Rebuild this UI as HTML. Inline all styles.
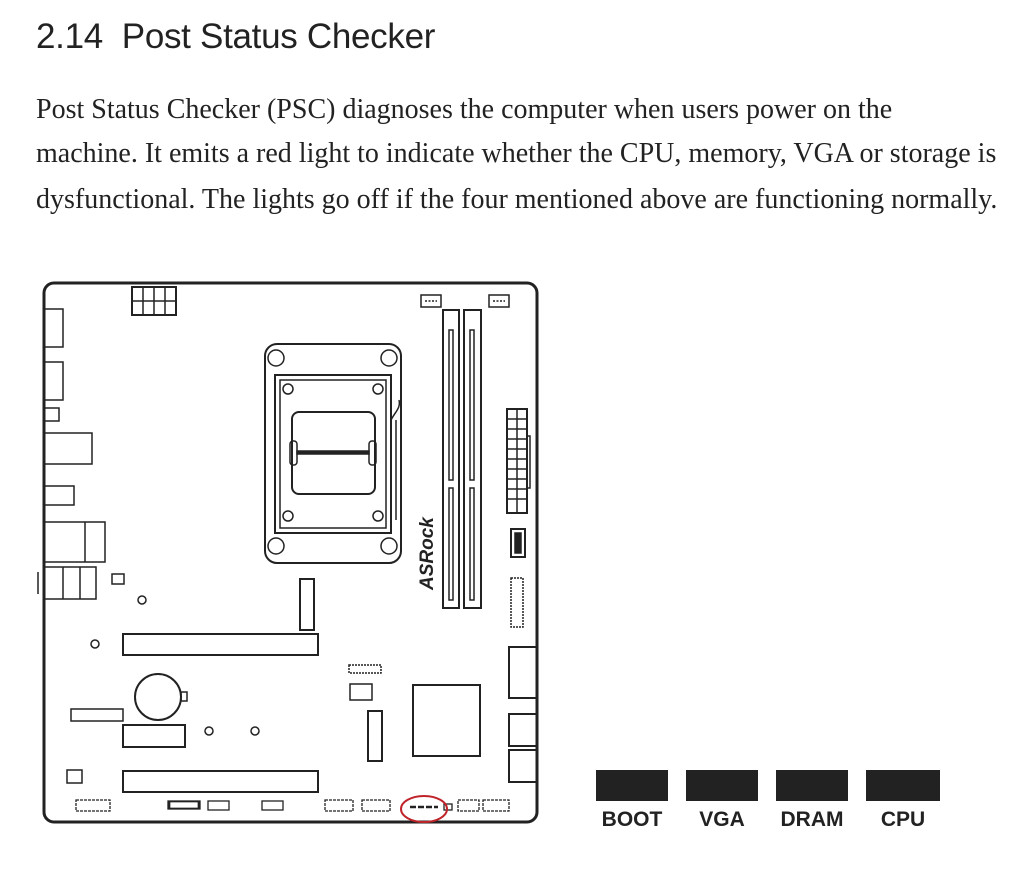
<!DOCTYPE html>
<html><head><meta charset="utf-8"><style>
body{margin:0;width:1036px;height:893px;background:#fff;overflow:hidden;position:relative}
.t{position:absolute;left:36px;top:17px;font-family:"Liberation Sans",sans-serif;font-size:35px;color:#222;letter-spacing:-0.3px}
.p{position:absolute;left:36px;font-family:"Liberation Serif",serif;font-size:28px;color:#222;white-space:nowrap}
</style></head><body>
<div class="t">2.14&nbsp; Post Status Checker</div>
<div class="p" style="top:94px">Post Status Checker (PSC) diagnoses the computer when users power on the</div>
<div class="p" style="top:138px">machine. It emits a red light to indicate whether the CPU, memory, VGA or storage is</div>
<div class="p" style="top:184px">dysfunctional. The lights go off if the four mentioned above are functioning normally.</div>
<svg width="1036" height="893" style="position:absolute;left:0;top:0" fill="none" stroke="#222" stroke-width="1.5">
<rect x="44" y="283" width="493" height="539" rx="10" stroke-width="3"/>
<rect x="132" y="287" width="44" height="28" stroke-width="2"/>
<path d="M143 287v28M154 287v28M165 287v28M132 301h44"/>
<rect x="421" y="295" width="20" height="12"/><rect x="489" y="295" width="20" height="12"/>
<path d="M425 301h12M493 301h12" stroke-dasharray="2 1.5"/>
<rect x="443" y="310" width="16" height="298" stroke-width="2"/>
<rect x="464" y="310" width="17" height="298" stroke-width="2"/>
<rect x="449" y="330" width="4" height="150"/><rect x="449" y="488" width="4" height="112"/>
<rect x="470" y="330" width="4" height="150"/><rect x="470" y="488" width="4" height="112"/>
<rect x="265" y="344" width="136" height="219" rx="12" stroke-width="2"/>
<rect x="275" y="375" width="116" height="158" stroke-width="2"/>
<rect x="280" y="380" width="106" height="148"/>
<rect x="292" y="412" width="83" height="82" rx="7" stroke-width="2"/>
<rect x="290" y="441" width="7" height="24" rx="3"/><rect x="369" y="441" width="7" height="24" rx="3"/>
<rect x="297" y="451" width="72" height="3" fill="#222"/>
<circle cx="276" cy="358" r="8"/><circle cx="389" cy="358" r="8"/><circle cx="276" cy="546" r="8"/><circle cx="389" cy="546" r="8"/>
<circle cx="288" cy="389" r="5"/><circle cx="378" cy="389" r="5"/><circle cx="288" cy="516" r="5"/><circle cx="378" cy="516" r="5"/>
<path d="M391 420c4-8 10-12 8-20M396 420v100" />
<text x="0" y="0" transform="translate(433,590) rotate(-90)" font-family="Liberation Sans,sans-serif" font-weight="bold" font-style="italic" font-size="19" fill="#222" stroke="none">ASRock</text>
<rect x="507" y="409" width="20" height="104" stroke-width="2"/>
<path d="M517 409v104M507 419h20M507 429h20M507 439h20M507 449h20M507 459h20M507 469h20M507 479h20M507 489h20M507 499h20"/>
<rect x="527" y="436" width="3" height="52"/>
<rect x="511" y="529" width="14" height="28" stroke-width="2"/><rect x="515" y="533" width="6" height="20" fill="#222"/>
<rect x="511" y="578" width="12" height="49" stroke-dasharray="2 1"/>
<path d="M44 309h19v38h-19M44 362h19v38h-19M44 408h15v13h-15M44 433h48v31h-48M44 486h30v19h-30M44 522h61v40h-61M85 522v40M44 567h52v32h-52M63 567v32M80 567v32M38 572v22"/>
<rect x="112" y="574" width="12" height="10"/>
<circle cx="142" cy="600" r="4"/><circle cx="95" cy="644" r="4"/><circle cx="209" cy="731" r="4"/><circle cx="255" cy="731" r="4"/>
<rect x="300" y="579" width="14" height="51" stroke-width="2"/>
<rect x="123" y="634" width="195" height="21" stroke-width="2"/>
<rect x="349" y="665" width="32" height="8" stroke-dasharray="2 1"/>
<rect x="350" y="684" width="22" height="16"/>
<circle cx="158" cy="697" r="23" stroke-width="2"/><rect x="181" y="692" width="6" height="9"/>
<rect x="71" y="709" width="52" height="12"/>
<rect x="123" y="725" width="62" height="22" stroke-width="2"/>
<rect x="368" y="711" width="14" height="50" stroke-width="2"/>
<rect x="413" y="685" width="67" height="71" stroke-width="2"/>
<path d="M537 647h-28v51h28M537 714h-28v32h28M537 750h-28v32h28" stroke-width="2"/>
<rect x="67" y="770" width="15" height="13"/>
<rect x="123" y="771" width="195" height="21" stroke-width="2"/>
<g stroke-width="1.3">
<rect x="76" y="800" width="34" height="11" stroke-dasharray="3 1"/>
<rect x="168" y="801" width="32" height="8" fill="#222"/><rect x="171" y="803" width="26" height="4" stroke="#fff" fill="#fff"/>
<rect x="208" y="801" width="21" height="9"/><rect x="262" y="801" width="21" height="9"/>
<rect x="325" y="800" width="28" height="11" stroke-dasharray="3 1"/><rect x="362" y="800" width="28" height="11" stroke-dasharray="3 1"/>
<rect x="444" y="804" width="8" height="6"/>
<rect x="458" y="800" width="21" height="11" stroke-dasharray="3 1"/><rect x="483" y="800" width="26" height="11" stroke-dasharray="3 1"/>
</g>
<path d="M410 807h28" stroke-width="2.5" stroke-dasharray="6 2"/>
<ellipse cx="424" cy="809" rx="23" ry="13" stroke="#c0242b" stroke-width="2"/>
<g fill="#222" stroke="none">
<rect x="596" y="770" width="72" height="31"/><rect x="686" y="770" width="72" height="31"/>
<rect x="776" y="770" width="72" height="31"/><rect x="866" y="770" width="74" height="31"/>
<g font-family="Liberation Sans,sans-serif" font-weight="bold" font-size="21" text-anchor="middle">
<text x="632" y="826">BOOT</text><text x="722" y="826">VGA</text><text x="812" y="826">DRAM</text><text x="903" y="826">CPU</text>
</g></g>
</svg>
</body></html>
